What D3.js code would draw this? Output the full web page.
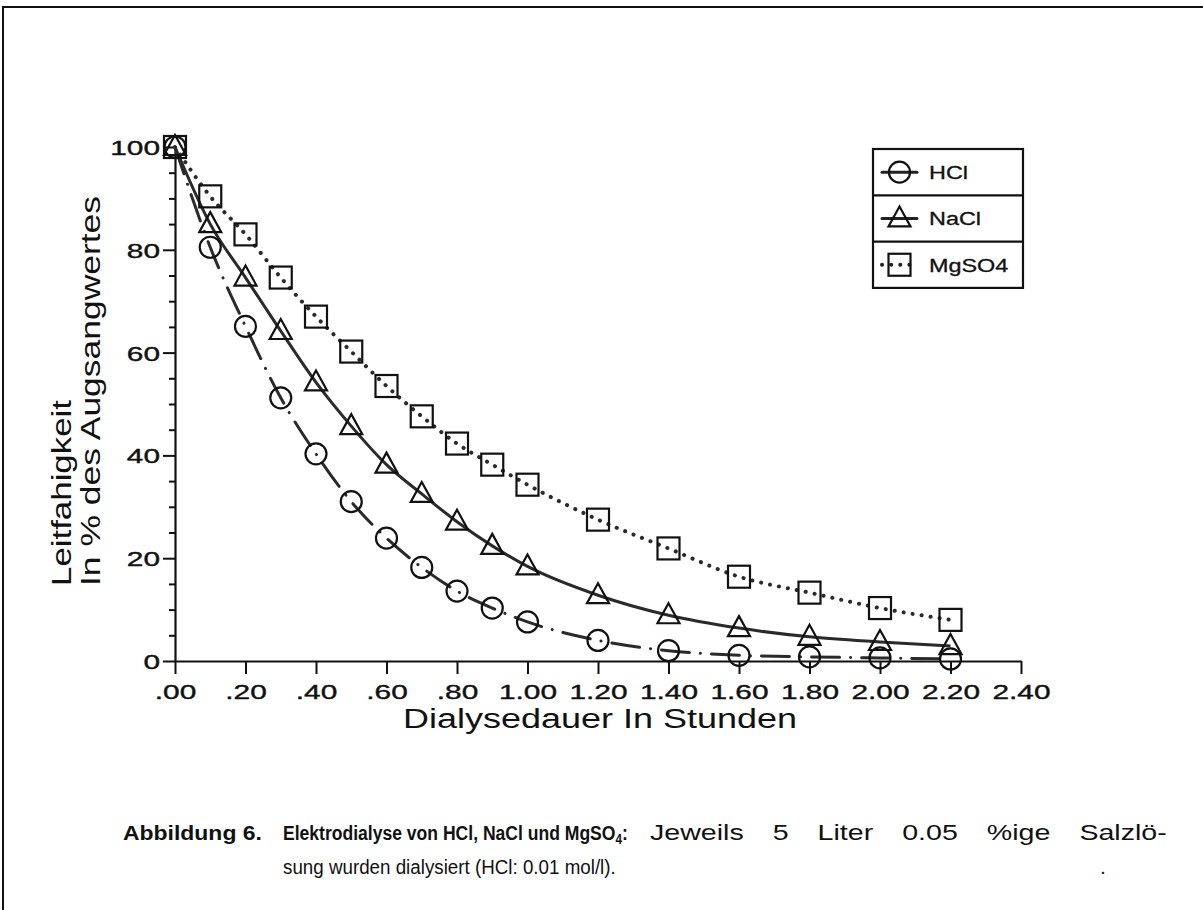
<!DOCTYPE html>
<html>
<head>
<meta charset="utf-8">
<script src="https://cdn.jsdelivr.net/npm/d3@7"></script>
<style>
body{margin:0;background:#fff}
svg{display:block}
</style>
</head>
<body>
<script>
// values
const hours = [0, 0.1, 0.2, 0.3, 0.4, 0.5, 0.6, 0.7, 0.8, 0.9, 1.0, 1.2, 1.4, 1.6, 1.8, 2.0, 2.2];
const hcl   = [100, 80.5, 65.1, 51.2, 40.3, 31.0, 23.9, 18.2, 13.6, 10.3, 7.6, 4.0, 2.0, 1.1, 0.8, 0.6, 0.4];
const nacl  = [100, 85.0, 74.6, 64.2, 54.2, 45.7, 38.2, 32.5, 27.1, 22.4, 18.4, 12.8, 8.9, 6.4, 4.7, 3.7, 2.9];
const mgso4 = [100, 90.4, 83.0, 74.6, 67.0, 60.2, 53.5, 47.6, 42.3, 38.2, 34.3, 27.5, 21.9, 16.4, 13.3, 10.3, 8.0];
const seriesNames = ["HCl", "NaCl", "MgSO4"];
const xTickValues = [0, 0.2, 0.4, 0.6, 0.8, 1.0, 1.2, 1.4, 1.6, 1.8, 2.0, 2.2, 2.4];
const xTickLabels = [".00", ".20", ".40", ".60", ".80", "1.00", "1.20", "1.40", "1.60", "1.80", "2.00", "2.20", "2.40"];
const yTickValues = [0, 20, 40, 60, 80, 100];
const yMinorValues = [5, 10, 15, 25, 30, 35, 45, 50, 55, 65, 70, 75, 85, 90, 95];

const W = 1203, H = 910;
const font = "'Liberation Sans', Arial, Helvetica, sans-serif";
const wide = 1.42; // the plot font of the scan is much wider than Helvetica

const svg = d3.select("body").append("svg")
    .attr("width", W).attr("height", H);

// stretch text horizontally to mimic the wide plotter font
function stretch(sel, f) {
    sel.each(function() {
        const w = this.getComputedTextLength();
        d3.select(this).attr("textLength", w * f).attr("lengthAdjust", "spacingAndGlyphs");
    });
}

// scanned page frame (left + top)
svg.append("path")
    .attr("d", `M3,${H} L3,7 L${W},7`)
    .attr("fill", "none").attr("stroke", "#111").attr("stroke-width", 2);

const x = d3.scaleLinear().domain([0, 2.4]).range([175, 1021]);
const y = d3.scaleLinear().domain([0, 100]).range([661, 147]);

// axes
const gx = svg.append("g")
    .attr("transform", `translate(0,${y(0)})`)
    .call(d3.axisBottom(x)
        .tickValues(xTickValues)
        .tickFormat((d, i) => xTickLabels[i])
        .tickSize(13).tickSizeOuter(0).tickPadding(6));

const gy = svg.append("g")
    .attr("transform", `translate(${x(0)},0)`)
    .call(d3.axisLeft(y)
        .tickValues(yTickValues)
        .tickSize(12).tickSizeOuter(0).tickPadding(3));

svg.append("g")
    .attr("transform", `translate(${x(0)},0)`)
    .call(d3.axisLeft(y).tickValues(yMinorValues).tickSize(6).tickFormat(""))
    .call(g => g.select(".domain").remove());

svg.selectAll(".domain").attr("stroke", "#111").attr("stroke-width", 2.2);
svg.selectAll(".tick line").attr("stroke", "#111").attr("stroke-width", 2);
svg.selectAll(".tick text")
    .attr("font-family", font).attr("font-size", 21).attr("fill", "#111")
    .attr("stroke", "#111").attr("stroke-width", 0.4);
gx.selectAll(".tick text").attr("dy", "0.9em");
gy.selectAll(".tick text").attr("dy", "0.36em");
stretch(svg.selectAll(".tick text"), wide);

// axis titles
svg.append("text")
    .attr("x", 600).attr("y", 728)
    .attr("text-anchor", "middle")
    .attr("font-family", font).attr("font-size", 27).attr("fill", "#111")
    .attr("textLength", 394).attr("lengthAdjust", "spacingAndGlyphs")
    .text("Dialysedauer In Stunden");

const ylab = svg.append("g").attr("transform", "translate(71,586) rotate(-90)");
ylab.append("text").attr("x", 0).attr("y", 0)
    .attr("font-family", font).attr("font-size", 27).attr("fill", "#111")
    .attr("textLength", 186).attr("lengthAdjust", "spacingAndGlyphs")
    .text("Leitfahigkeit");
ylab.append("text").attr("x", 0).attr("y", 29)
    .attr("font-family", font).attr("font-size", 27).attr("fill", "#111")
    .attr("textLength", 390).attr("lengthAdjust", "spacingAndGlyphs")
    .text("In % des Augsangwertes");

// lines
const styles = [
    {data: hcl,   dash: "28,11,0.1,11", width: 3,   cap: "round"},
    {data: nacl,  dash: null,           width: 3,   cap: "butt"},
    {data: mgso4, dash: "0.1,9",        width: 4,   cap: "round"}
];

const line = d3.line()
    .x((d, i) => x(hours[i]))
    .y(d => y(d))
    .curve(d3.curveMonotoneX);

styles.forEach(s => {
    svg.append("path")
        .datum(s.data)
        .attr("d", line)
        .attr("fill", "none")
        .attr("stroke", "#2a2a2a")
        .attr("stroke-width", s.width)
        .attr("stroke-linecap", s.cap)
        .attr("stroke-dasharray", s.dash);
});

// markers
function marker(g, type, cx, cy) {
    if (type === 0) {
        g.append("circle").attr("cx", cx).attr("cy", cy).attr("r", 10.5);
    } else if (type === 1) {
        g.append("path").attr("d", `M${cx},${cy - 12} L${cx + 11},${cy + 8} L${cx - 11},${cy + 8} Z`);
    } else {
        g.append("rect").attr("x", cx - 11).attr("y", cy - 11).attr("width", 22).attr("height", 22);
    }
}

styles.forEach((s, k) => {
    const g = svg.append("g")
        .attr("fill", "none").attr("stroke", "#111").attr("stroke-width", 2.2);
    s.data.forEach((v, i) => marker(g, k, x(hours[i]), y(v)));
});

// legend
const lx = 873, ly = 149, lw = 150, rowH = 46.3;
const legend = svg.append("g");
legend.append("rect")
    .attr("x", lx).attr("y", ly).attr("width", lw).attr("height", rowH * 3)
    .attr("fill", "#fff").attr("stroke", "#111").attr("stroke-width", 2.2);
seriesNames.forEach((name, k) => {
    const cy = ly + rowH * k + rowH / 2;
    if (k > 0) {
        legend.append("line")
            .attr("x1", lx).attr("x2", lx + lw)
            .attr("y1", ly + rowH * k).attr("y2", ly + rowH * k)
            .attr("stroke", "#111").attr("stroke-width", 2.2);
    }
    legend.append("line")
        .attr("x1", 882).attr("x2", 917).attr("y1", cy).attr("y2", cy)
        .attr("stroke", "#222").attr("stroke-width", styles[k].width)
        .attr("stroke-linecap", "round")
        .attr("stroke-dasharray", k === 2 ? "0.1,9" : null);
    const g = legend.append("g")
        .attr("fill", "none").attr("stroke", "#111").attr("stroke-width", 2.2);
    marker(g, k, 899.5, cy);
    const t = legend.append("text")
        .attr("x", 929).attr("y", cy + 7)
        .attr("font-family", font).attr("font-size", 18).attr("fill", "#111")
        .attr("stroke", "#111").attr("stroke-width", 0.3)
        .text(name);
    stretch(t, 1.3);
});

// caption: condensed face, faked by horizontal scaling
function cap(xp, yp, weight, size) {
    const g = svg.append("g").attr("transform", `translate(${xp},${yp})`);
    const t = g.append("text")
        .attr("font-family", font).attr("font-size", size || 21)
        .attr("font-weight", weight).attr("fill", "#111");
    return {g, t, xp, yp};
}
function fit(c, target) {
    const w = c.t.node().getComputedTextLength();
    c.g.attr("transform", `translate(${c.xp},${c.yp}) scale(${target / w},1)`);
}
// spread words so the line ends where the justified scan line ends
function justify(c, target, sx) {
    const node = c.t.node();
    const w = node.getComputedTextLength();
    const n = (node.textContent.match(/ /g) || []).length;
    c.g.attr("transform", `translate(${c.xp},${c.yp}) scale(${sx},1)`);
    if (n > 0) c.t.attr("word-spacing", Math.max(0, (target / sx - w) / n));
}
const c1 = cap(123, 840, "bold");
c1.t.text("Abbildung 6.");
fit(c1, 139);
const c2 = cap(283, 840, "bold");
c2.t.append("tspan").text("Elektrodialyse von HCl, NaCl und MgSO");
c2.t.append("tspan").attr("font-size", 14).attr("dy", 4).text("4");
c2.t.append("tspan").attr("dy", -4).text(":");
fit(c2, 345);
const c3 = cap(650, 840, "normal", 22);
c3.t.text("Jeweils 5 Liter 0.05 %ige Salzlö-");
justify(c3, 517, 1.3);
const c4 = cap(283, 874, "normal");
c4.t.text("sung wurden dialysiert (HCl: 0.01 mol/l).");
fit(c4, 333);
const c5 = cap(1100, 874, "normal");
c5.t.text(".");
</script>
</body>
</html>
